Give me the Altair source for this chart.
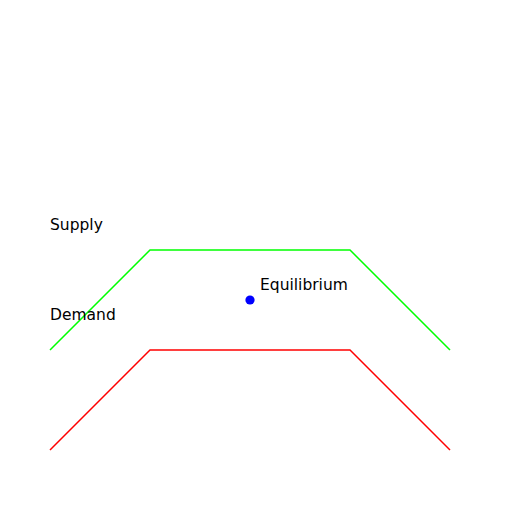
import altair as alt
import pandas as pd

x_vals = [1, 2, 4, 5]
supply_y = [2, 3, 3, 2]
demand_y = [1, 2, 2, 1]
eq_point = {"x": 3, "y": 2.5}
labels = ["Supply", "Demand", "Equilibrium"]
label_x = [1, 1, 3.1]
label_y = [3.2, 2.3, 2.6]

lines = pd.DataFrame({
    "x": x_vals + x_vals,
    "y": supply_y + demand_y,
    "series": ["Supply"] * 4 + ["Demand"] * 4,
    "order": list(range(4)) * 2,
})
pts = pd.DataFrame([eq_point])
txt = pd.DataFrame({"x": label_x, "y": label_y, "label": labels})

xs = alt.Scale(domain=[0.58, 5.54], nice=False, zero=False)
ys = alt.Scale(domain=[0.46, 5.42], nice=False, zero=False)
X = lambda: alt.X("x:Q", scale=xs, axis=None)
Y = lambda: alt.Y("y:Q", scale=ys, axis=None)

line_layer = alt.Chart(lines).mark_line(strokeWidth=1.5, clip=False).encode(
    x=X(), y=Y(), order="order:Q",
    color=alt.Color("series:N", scale=alt.Scale(domain=["Supply", "Demand"], range=["#00ff00", "#ff0000"]), legend=None),
    detail="series:N",
)
pt_layer = alt.Chart(pts).mark_circle(size=85, color="#0000ff", opacity=1).encode(x=X(), y=Y())
txt_layer = alt.Chart(txt).mark_text(align="left", baseline="alphabetic", font="DejaVu Sans", fontSize=15.5, color="black").encode(
    x=X(), y=Y(), text="label:N"
)

chart = alt.layer(line_layer, pt_layer, txt_layer).properties(
    width=496, height=496, padding=0, autosize=alt.AutoSizeParams(type="none")
).configure_view(stroke=None)

chart.save("out.html", embed_options={"renderer": "svg", "actions": False})
